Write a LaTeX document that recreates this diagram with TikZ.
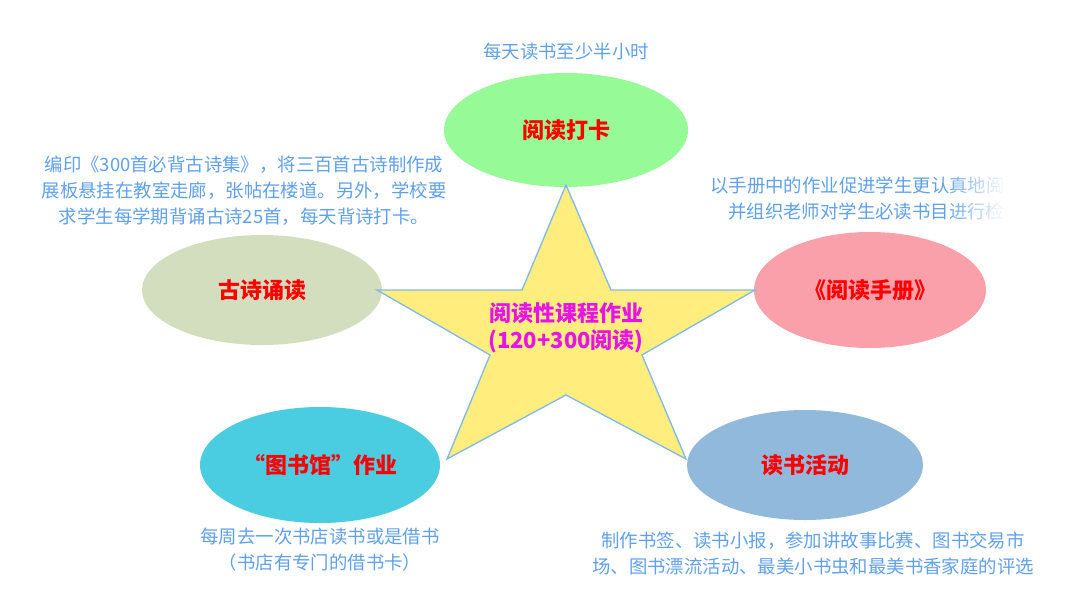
\documentclass[tikz,border=0pt]{standalone}
\usepackage{fontspec}
\setmainfont{Noto Sans CJK SC}
\usetikzlibrary{fadings}
\definecolor{txt}{RGB}{95,160,235}
\definecolor{gA}{RGB}{150,250,150}
\definecolor{gB}{RGB}{210,222,190}
\definecolor{gC}{RGB}{250,160,170}
\definecolor{gD}{RGB}{75,205,225}
\definecolor{gE}{RGB}{145,185,220}
\definecolor{st}{RGB}{255,238,125}
\definecolor{stl}{RGB}{130,185,235}
\tikzset{
 lab/.style={text=red,font=\fontsize{16.5}{19}\selectfont\bfseries},
 note/.style={text=txt,font=\fontsize{13.8}{19.5}\selectfont,align=center,inner sep=0pt}
}
\begin{document}
\begin{tikzpicture}[x=0.75pt,y=-0.75pt]
\useasboundingbox (0,0) rectangle (1080,606);
\fill[gA] (566,130) ellipse (122 and 57);
\fill[gB] (262,290) ellipse (120 and 55);
\fill[gC] (870,290) ellipse (116 and 58);
\fill[gD] (320,465) ellipse (120 and 58);
\fill[gE] (805,465) ellipse (118 and 55);
\draw[stl,fill=st,line width=1pt] (566,185) -- (611,290) -- (755,290) -- (642,355) -- (686,459) -- (566,395) -- (447,459) -- (490,355) -- (377,290) -- (522,290) -- cycle;
\node[text={rgb,255:red,230;green,20;blue,230},font=\fontsize{16.5}{20}\selectfont\bfseries,align=center] (c) at (566,328) {阅读性课程作业\\(120+300阅读)};
\node[lab] (a) at (566,130) {阅读打卡};
\node[lab] (b) at (262,290) {古诗诵读};
\node[lab] (r) at (870,290) {《阅读手册》};
\node[lab] (d) at (320,465) {“图书馆”作业};
\node[lab] (e) at (805,465) {读书活动};
\node[note] (na) at (566,52) {每天读书至少半小时};
\node[note] (nb) at (244,191) {编印《300首必背古诗集》，将三百首古诗制作成\\展板悬挂在教室走廊，张帖在楼道。另外，学校要\\求学生每学期背诵古诗25首，每天背诗打卡。};
\node[note,anchor=west] (nr1) at (710,186) {以手册中的作业促进学生更认真地阅读，};
\node[note,anchor=west] (nr2) at (728,211) {并组织老师对学生必读书目进行检测};
\fill[white] (1005,165) rectangle (1080,225);
\fill[white,path fading=west] (945,165) rectangle (1006,225);
\node[note] (nd) at (320,550) {每周去一次书店读书或是借书\\（书店有专门的借书卡）};
\node[note] (ne) at (813,553) {制作书签、读书小报，参加讲故事比赛、图书交易市\\场、图书漂流活动、最美小书虫和最美书香家庭的评选};
\end{tikzpicture}
\end{document}
